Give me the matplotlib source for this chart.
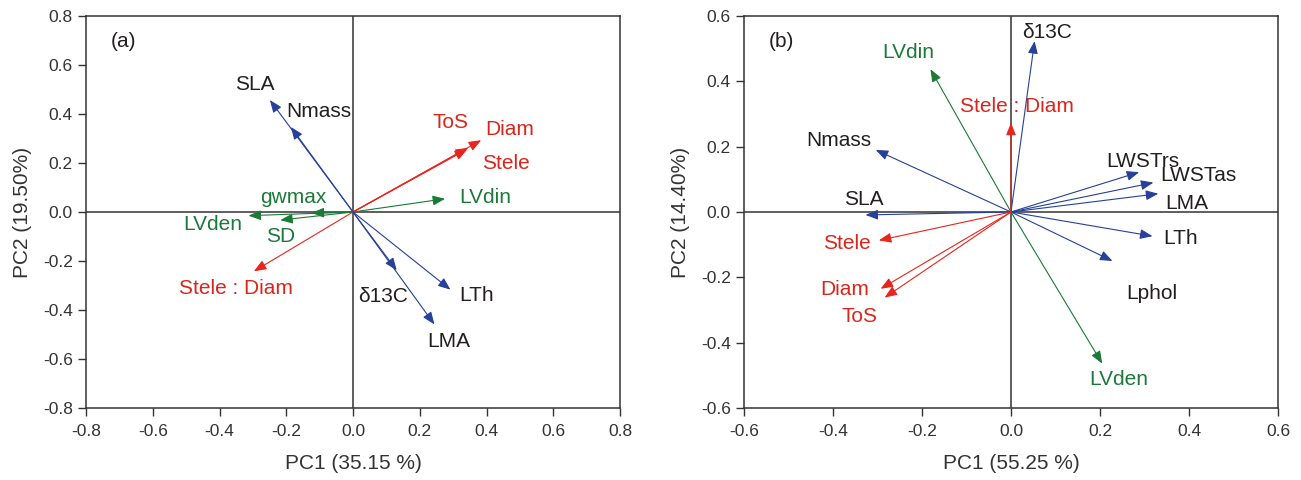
import matplotlib
matplotlib.use("Agg")
import matplotlib.pyplot as plt

plt.rcParams['font.family'] = ['Liberation Sans', 'DejaVu Sans']

BLUE = '#27409a'
RED = '#e8251d'
GREEN = '#1b7a36'
TXT_K = '#231f20'
TXT_R = '#d9261c'
TXT_G = '#1b7a3a'

# panel (a) loadings
a_names = ['SLA', 'Nmass', 'Diam', 'Stele', 'ToS', 'LVdin', 'gwmax', 'LVden', 'SD',
           'Stele : Diam', 'δ13C', 'LTh', 'LMA']
a_pc1 = [-0.249, -0.186, 0.384, 0.342, 0.345, 0.276, -0.124, -0.313, -0.218,
         -0.297, 0.131, 0.292, 0.244]
a_pc2 = [0.457, 0.347, 0.293, 0.256, 0.262, 0.054, -0.004, -0.015, -0.033,
         -0.242, -0.238, -0.317, -0.459]
a_group = ['k', 'k', 'r', 'r', 'r', 'g', 'g', 'g', 'g', 'r', 'k', 'k', 'k']
a_lab_x = [-0.294, -0.102, 0.468, 0.459, 0.292, 0.396, -0.178, -0.419, -0.217,
           -0.352, 0.089, 0.37, 0.287]
a_lab_y = [0.521, 0.412, 0.337, 0.199, 0.365, 0.061, 0.058, -0.05, -0.098,
           -0.313, -0.343, -0.34, -0.527]

# panel (b) loadings
b_names = ['δ13C', 'LVdin', 'Stele : Diam', 'Nmass', 'LWSTrs', 'LWSTas', 'LMA', 'SLA',
           'LTh', 'Lphol', 'LVden', 'Stele', 'Diam', 'ToS']
b_pc1 = [0.053, -0.181, 0.0, -0.304, 0.288, 0.32, 0.331, -0.327,
         0.318, 0.228, 0.205, -0.297, -0.293, -0.284]
b_pc2 = [0.523, 0.437, 0.273, 0.19, 0.122, 0.09, 0.056, -0.009,
         -0.074, -0.15, -0.464, -0.087, -0.235, -0.262]
b_group = ['k', 'g', 'r', 'k', 'k', 'k', 'k', 'k', 'k', 'k', 'g', 'r', 'r', 'r']
b_lab_x = [0.082, -0.232, 0.013, -0.387, 0.297, 0.422, 0.396, -0.331,
           0.381, 0.316, 0.243, -0.368, -0.374, -0.34]
b_lab_y = [0.549, 0.488, 0.324, 0.219, 0.156, 0.113, 0.027, 0.039,
           -0.08, -0.248, -0.512, -0.095, -0.238, -0.321]

a_ticks = [-0.8, -0.6, -0.4, -0.2, 0.0, 0.2, 0.4, 0.6, 0.8]
b_ticks = [-0.6, -0.4, -0.2, 0.0, 0.2, 0.4, 0.6]

arrow_col = {'k': BLUE, 'r': RED, 'g': GREEN}
text_col = {'k': TXT_K, 'r': TXT_R, 'g': TXT_G}


def draw_panel(ax, names, xs, ys, groups, lx, ly, ticks, tag, xlabel, ylabel):
    lim = (ticks[0], ticks[-1])
    ax.set_xlim(lim)
    ax.set_ylim(lim)
    ax.axhline(0, color='#333333', lw=1.1, zorder=1)
    ax.axvline(0, color='#333333', lw=1.1, zorder=1)
    for n, x, y, g, tx, ty in zip(names, xs, ys, groups, lx, ly):
        ax.annotate('', xy=(x, y), xytext=(0, 0),
                    arrowprops=dict(arrowstyle='-|>,head_length=0.75,head_width=0.3',
                                    color=arrow_col[g], lw=0.8, shrinkA=0, shrinkB=0,
                                    mutation_scale=10), zorder=3)
        ax.text(tx, ty, n, color=text_col[g], fontsize=15, ha='center', va='center')
    ax.text(0.07, 0.935, tag, transform=ax.transAxes,
            fontsize=15, color=TXT_K, ha='center', va='center')
    ax.set_xticks(ticks)
    ax.set_yticks(ticks)
    ax.set_xticklabels(['%.1f' % t for t in ticks])
    ax.set_yticklabels(['%.1f' % t for t in ticks])
    ax.tick_params(direction='out', length=5.5, width=1, labelsize=12.5,
                   colors='#333333', pad=4)
    ax.tick_params(axis='x', pad=6)
    for s in ax.spines.values():
        s.set_linewidth(1.1)
        s.set_color('#333333')
    ax.set_xlabel(xlabel, fontsize=15, color='#333333', labelpad=11)
    ax.set_ylabel(ylabel, fontsize=15, color='#333333', labelpad=8)


fig = plt.figure(figsize=(13.01, 4.8), dpi=100)
ax1 = fig.add_axes([86 / 1301, 1 - 408 / 480, 534 / 1301, 392 / 480])
ax2 = fig.add_axes([744 / 1301, 1 - 408 / 480, 534 / 1301, 392 / 480])

draw_panel(ax1, a_names, a_pc1, a_pc2, a_group, a_lab_x, a_lab_y, a_ticks, '(a)',
           'PC1 (35.15 %)', 'PC2 (19.50%)')
draw_panel(ax2, b_names, b_pc1, b_pc2, b_group, b_lab_x, b_lab_y, b_ticks, '(b)',
           'PC1 (55.25 %)', 'PC2 (14.40%)')

fig.savefig('out.png', dpi=100)
